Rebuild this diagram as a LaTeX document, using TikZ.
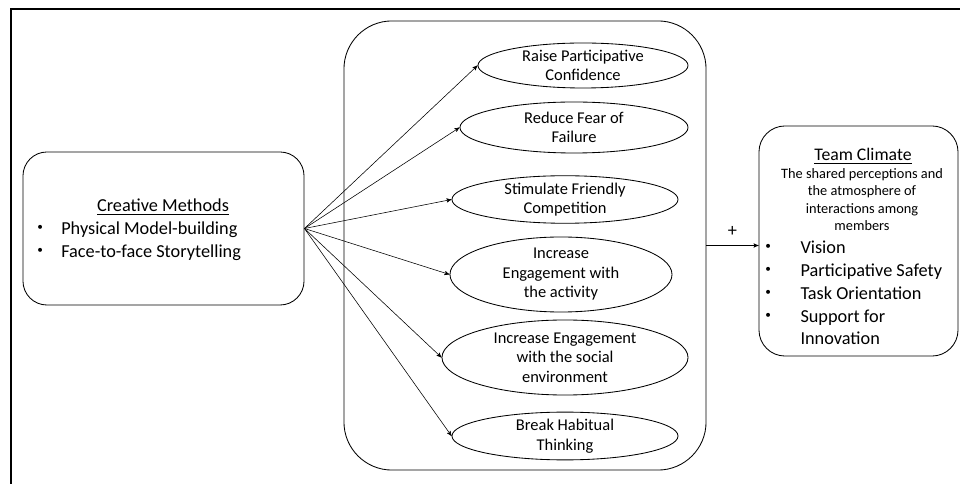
\documentclass[tikz,border=0pt]{standalone}
\usepackage{fontspec}
\setmainfont{Carlito}
\usepackage{tikz}
\usetikzlibrary{shapes}
\usetikzlibrary{arrows}
\tikzset{
	round box/.style={draw,rounded corners=0.6cm,line width=0.6pt,inner sep=0pt},
	oval/.style={ellipse,draw,line width=0.6pt,inner sep=0pt,align=center,
		font=\fontsize{11.7}{13.9}\selectfont},
	big text/.style={inner sep=0pt,font=\fontsize{13}{16.2}\selectfont},
	small text/.style={inner sep=0pt,align=center,font=\fontsize{10.2}{12.4}\selectfont}
}
\newcommand{\dotitem}[2]{\makebox[#1][l]{\raisebox{0.22em}{\fontsize{8}{8}\selectfont\textbullet}}#2}

\begin{document}
\begin{tikzpicture}[->,>=stealth',x=0.025cm,y=-0.025cm]
	\useasboundingbox (0,0) rectangle (960,484);
	\draw [-,line width=1.7pt] (960,9) -- (11,9) -- (11,484);
	% creative methods
	\node [round box,minimum width=7.025cm,minimum height=3.825cm] (methods) at (163.5,228.5) {};
	\node [big text,anchor=base] (methods title) at (163,212) {\underline{Creative Methods}};
	\node [big text,align=left,anchor=north west] (methods list) at (37,222)
		{\dotitem{0.6cm}{Physical Model-building}\\ \dotitem{0.6cm}{Face-to-face Storytelling}};
	% mechanisms
	\node [round box,rounded corners=1.2cm,minimum width=9.05cm,minimum height=11.225cm] (group) at (525,245.5) {};
	\node [oval,minimum width=5.25cm,minimum height=1.125cm] (e1) at (583,65.5) {Raise Participative\\Confidence};
	\node [oval,minimum width=5.7cm,minimum height=1.275cm] (e2) at (574,127.5) {Reduce Fear of\\Failure};
	\node [oval,minimum width=5.65cm,minimum height=1.175cm] (e3) at (565,199.5) {Stimulate Friendly\\Competition};
	\node [oval,minimum width=5.55cm,minimum height=1.875cm] (e4) at (561,274.5) {Increase\\Engagement with\\the activity};
	\node [oval,minimum width=6.15cm,minimum height=1.875cm] (e5) at (565,357.5) {Increase Engagement\\with the social\\environment};
	\node [oval,minimum width=5.65cm,minimum height=1.05cm] (e6) at (565,436) {Break Habitual\\Thinking};
	% team climate
	\node [round box,rounded corners=0.65cm,minimum width=4.975cm,minimum height=5.75cm] (climate) at (858.5,241) {};
	\node [inner sep=0pt,anchor=base,font=\fontsize{12.6}{15}\selectfont] (climate title) at (863,161) {\underline{Team Climate}};
	\node [small text,anchor=north] (climate text) at (862,168)
		{The shared perceptions and\\the atmosphere of\\interactions among\\members};
	\node [big text,align=left,anchor=north west] (climate list) at (765,241)
		{\dotitem{0.88cm}{Vision}\\ \dotitem{0.88cm}{Participative Safety}\\ \dotitem{0.88cm}{Task Orientation}\\
		 \dotitem{0.88cm}{Support for}\\ \makebox[0.88cm]{}Innovation};
	% arrows
	\draw (methods.east) -- (e1.west);
	\draw (methods.east) -- (e2.west);
	\draw (methods.east) -- (e3.west);
	\draw (methods.east) -- (e4.west);
	\draw (methods.east) -- (e5.west);
	\draw (methods.east) -- (e6.west);
	\draw (group.east) -- node [big text,above=6pt] (plus) {+} (climate.west |- group.east);
\end{tikzpicture}
\end{document}
